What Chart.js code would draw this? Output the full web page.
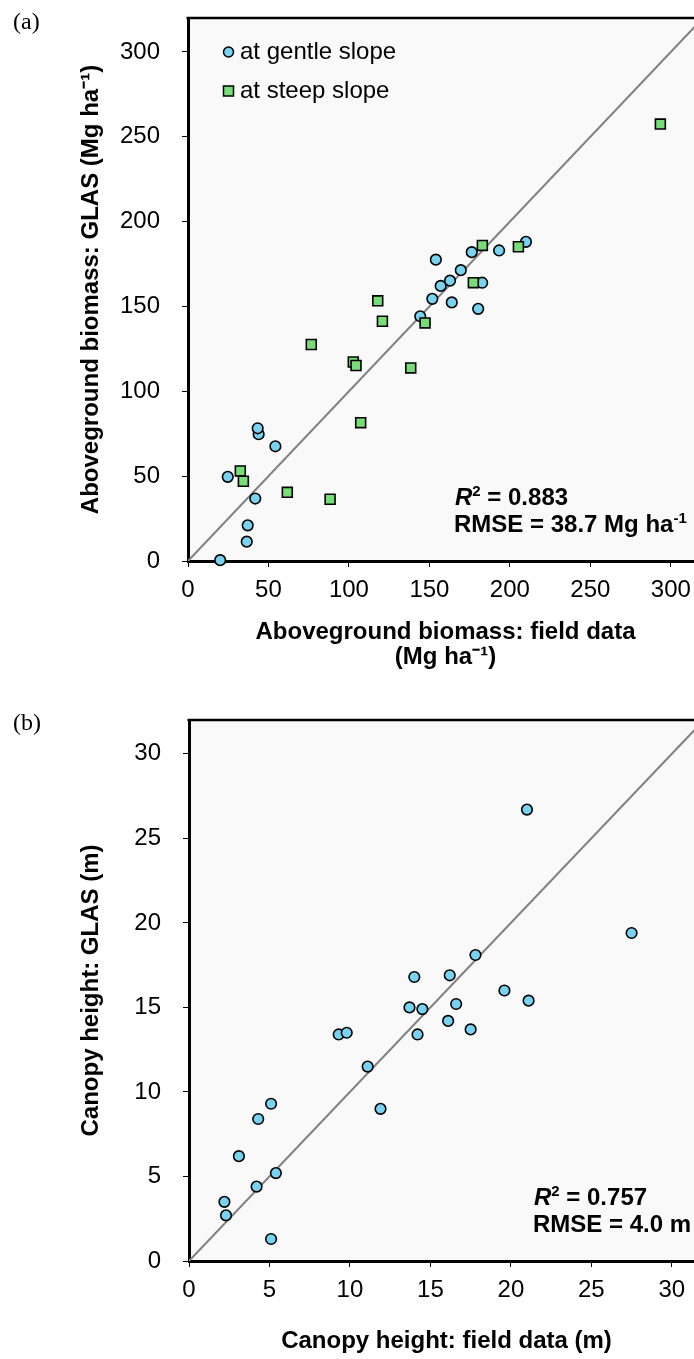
<!DOCTYPE html>
<html>
<head>
<meta charset="utf-8">
<script src="https://cdn.jsdelivr.net/npm/chart.js@4.4.1/dist/chart.umd.min.js"></script>
<style>
  html, body { margin: 0; padding: 0; background: #fff; overflow: hidden; }
  #page { position: relative; width: 694px; height: 1359px; overflow: hidden; }
  canvas { position: absolute; left: 0; display: block; }
  .tag { position: absolute; left: 13px; font: 24px 'Liberation Serif', 'Times New Roman', serif; line-height: 24px; color: #000; }
</style>
</head>
<body>
<div id="page">
  <canvas id="biomassChart" style="top:0" width="720" height="700"></canvas>
  <canvas id="heightChart" style="top:700px" width="720" height="659"></canvas>
  <div class="tag" style="top:9px">(a)</div>
  <div class="tag" style="top:710px">(b)</div>
</div>
<script>
// Panel (a): aboveground biomass, field data vs GLAS (Mg ha-1)
const gentleField = [20, 36.5, 37.1, 41.8, 24.7, 54.3, 43.9, 43.3, 144.3, 151.8, 163.9, 180.3, 157, 162.8, 169.5, 182.8, 154, 176.3, 193.3, 210];
const gentleGlas  = [0.5, 11.4, 21, 36.8, 49.6, 67.6, 74.7, 78.2, 144.2, 154.5, 152.4, 148.6, 162.1, 165.2, 171.4, 164, 177.6, 182, 183, 188.1];
const steepField = [182.9, 205.3, 293.5, 177.3, 117.9, 120.8, 147.3, 76.6, 102.7, 104.4, 138.4, 107.3, 32.5, 34.4, 61.7, 88.3];
const steepGlas  = [186, 185.2, 257.5, 164, 153.3, 141.3, 140.3, 127.6, 117.3, 115.2, 113.8, 81.5, 53.1, 47, 40.5, 36.4];
const biomassTicks = [0, 50, 100, 150, 200, 250, 300];
const biomassLine = [0, 320];

// Panel (b): canopy height, field data vs GLAS (m)
const heightField = [21.0, 27.5, 17.8, 14.0, 16.2, 19.6, 21.1, 16.6, 13.7, 14.5, 16.1, 17.5, 14.2, 9.3, 9.8, 11.1, 11.9, 5.1, 4.3, 3.1, 5.4, 4.2, 2.2, 2.3, 5.1];
const heightGlas  = [26.7, 19.4, 18.1, 16.8, 16.9, 16.0, 15.4, 15.2, 15.0, 14.9, 14.2, 13.7, 13.4, 13.4, 13.5, 11.5, 9.0, 9.3, 8.4, 6.2, 5.2, 4.4, 3.5, 2.7, 1.3];
const heightTicks = [0, 5, 10, 15, 20, 25, 30];
const heightLine = [0, 32];

const FONT = "'Liberation Sans', Arial, Helvetica, sans-serif";
const BLUE = '#78d2f0';
const GREEN = '#77dd77';

Chart.defaults.font.family = FONT;
Chart.defaults.font.size = 24;
Chart.defaults.color = '#000';

const toPoints = (xs, ys) => xs.map((x, i) => ({ x, y: ys[i] }));

// grey plot background + top/right frame
const plotFrame = {
  id: 'plotFrame',
  beforeDraw(chart) {
    const { ctx, chartArea: a } = chart;
    ctx.save();
    ctx.fillStyle = '#f9f9f9';
    ctx.fillRect(a.left, a.top, a.right - a.left, a.bottom - a.top);
    ctx.restore();
  },
  beforeDatasetsDraw(chart) {
    const { ctx, chartArea: a } = chart;
    ctx.save();
    ctx.strokeStyle = '#000';
    ctx.lineWidth = 2.5;
    ctx.beginPath();
    ctx.moveTo(a.left - 1.5, a.top);
    ctx.lineTo(a.right, a.top);
    ctx.lineTo(a.right, a.bottom);
    ctx.stroke();
    ctx.restore();
  }
};

function richLine(ctx, x, y, parts) {
  let cx = x;
  for (const p of parts) {
    ctx.font = p.font;
    ctx.fillText(p.text, cx, y + (p.dy || 0));
    cx += ctx.measureText(p.text).width;
  }
}

// R2 / RMSE box and the legend inside the plot
const fitStats = {
  id: 'fitStats',
  afterDraw(chart, args, opts) {
    const { ctx, chartArea: a } = chart;
    ctx.save();
    ctx.fillStyle = '#000';
    ctx.textBaseline = 'middle';
    const bold = 'bold 24px ' + FONT;
    const sup = 'bold 15px ' + FONT;
    const x = a.left + opts.dx, y = a.top + opts.dy;
    richLine(ctx, x, y, [
      { text: 'R', font: 'italic bold 24px ' + FONT },
      { text: '2', font: sup, dy: -6 },
      { text: ' = ' + opts.r2, font: bold }
    ]);
    const rmse = [{ text: 'RMSE = ' + opts.rmse, font: bold }];
    if (opts.unitSup) rmse.push({ text: opts.unitSup, font: sup, dy: -6 });
    richLine(ctx, x - 1, y + 27, rmse);

    if (opts.legend) {
      chart.data.datasets.forEach((ds, i) => {
        if (!ds.label) return;
        const ly = a.top + 34 + i * 39;
        const lx = a.left + 40.5;
        ctx.fillStyle = ds.backgroundColor;
        ctx.strokeStyle = '#000';
        ctx.lineWidth = 1.5;
        ctx.beginPath();
        if (ds.pointStyle === 'rect') ctx.rect(lx - 5, ly - 5, 10, 10);
        else ctx.arc(lx, ly, 5, 0, Math.PI * 2);
        ctx.fill();
        ctx.stroke();
        ctx.fillStyle = '#000';
        ctx.font = '24px ' + FONT;
        ctx.fillText(ds.label, a.left + 52, ly);
      });
    }
    ctx.restore();
  }
};

function axis(pos, max, ticks, title, size, titlePad, tickPad) {
  return {
    type: 'linear',
    position: pos,
    min: 0,
    max: max,
    afterBuildTicks: s => { s.ticks = ticks.map(v => ({ value: v })); },
    afterFit: s => {
      if (pos === 'left') s.width = size;
      else s.height = size;
      // keep the plot box exactly where the layout puts it
      s.paddingTop = 0; s.paddingBottom = 0;
      s.paddingLeft = 0; s.paddingRight = 0;
    },
    grid: { drawOnChartArea: false, drawTicks: true, tickLength: 6, tickWidth: 1, tickColor: '#000', color: '#000' },
    border: { display: true, color: '#000', width: 3 },
    ticks: { color: '#000', font: { size: 24 }, padding: tickPad },
    title: {
      display: true,
      text: title,
      color: '#000',
      font: { size: 24, weight: 'bold', lineHeight: 1.05 },
      padding: pos === 'left' ? { top: titlePad, bottom: 0 } : { top: 0, bottom: titlePad }
    }
  };
}

function diagonal(vals) {
  return {
    type: 'line',
    data: toPoints(vals, vals),
    borderColor: '#808080',
    borderWidth: 2,
    pointRadius: 0,
    order: 3
  };
}

new Chart(document.getElementById('biomassChart'), {
  type: 'scatter',
  data: {
    datasets: [
      {
        label: 'at gentle slope',
        data: toPoints(gentleField, gentleGlas),
        pointStyle: 'circle',
        pointRadius: 5.3,
        backgroundColor: BLUE,
        borderColor: '#000',
        borderWidth: 1.6,
        clip: false,
        order: 2
      },
      {
        label: 'at steep slope',
        data: toPoints(steepField, steepGlas),
        pointStyle: 'rect',
        pointRadius: 7,
        backgroundColor: GREEN,
        borderColor: '#000',
        borderWidth: 1.6,
        clip: false,
        order: 1
      },
      diagonal(biomassLine)
    ]
  },
  options: {
    responsive: false,
    animation: false,
    devicePixelRatio: 1,
    layout: { padding: { top: 18, right: 17, left: 0, bottom: 0 } },
    plugins: {
      legend: { display: false },
      tooltip: { enabled: false },
      fitStats: { dx: 267, dy: 480, r2: '0.883', rmse: '38.7 Mg ha', unitSup: '-1', legend: true }
    },
    scales: {
      x: axis('bottom', 320, biomassTicks, ['Aboveground biomass: field data', '(Mg ha\u207B\u00B9)'], 139, 30, 9),
      y: axis('left', 320, biomassTicks, 'Aboveground biomass: GLAS (Mg ha\u207B\u00B9)', 188, 79, 22)
    }
  },
  plugins: [plotFrame, fitStats]
});

new Chart(document.getElementById('heightChart'), {
  type: 'scatter',
  data: {
    datasets: [
      {
        data: toPoints(heightField, heightGlas),
        pointStyle: 'circle',
        pointRadius: 5.3,
        backgroundColor: BLUE,
        borderColor: '#000',
        borderWidth: 1.6,
        clip: false,
        order: 1
      },
      diagonal(heightLine)
    ]
  },
  options: {
    responsive: false,
    animation: false,
    devicePixelRatio: 1,
    layout: { padding: { top: 20, right: 16, left: 0, bottom: 0 } },
    plugins: {
      legend: { display: false },
      tooltip: { enabled: false },
      fitStats: { dx: 345, dy: 478, r2: '0.757', rmse: '4.0 m', legend: false }
    },
    scales: {
      x: axis('bottom', 32, heightTicks, 'Canopy height: field data (m)', 98, 5, 9),
      y: axis('left', 32, heightTicks, 'Canopy height: GLAS (m)', 189, 79, 22)
    }
  },
  plugins: [plotFrame, fitStats]
});
</script>
</body>
</html>
